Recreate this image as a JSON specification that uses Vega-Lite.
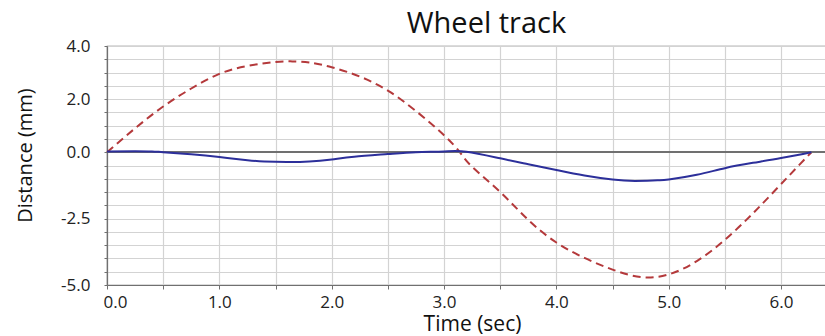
{
  "$schema": "https://vega.github.io/schema/vega-lite/v6.json",
  "width": 719,
  "height": 239,
  "autosize": {"type": "none"},
  "padding": {"left": 107, "top": 46, "right": 0, "bottom": 51},
  "background": "white",
  "config": {
    "font": "Open Sans",
    "view": {"stroke": "#707070", "strokeWidth": 1.2}
  },
  "title": {
    "text": "Wheel track",
    "fontSize": 29,
    "fontWeight": "normal",
    "color": "#111111",
    "anchor": "middle",
    "dx": 20,
    "offset": -2
  },
  "datasets": {
    "tracks": [
      {"t": 0.0, "value": 0.0, "series": "vertical"},
      {"t": 0.25, "value": 0.9, "series": "vertical"},
      {"t": 0.5, "value": 1.72, "series": "vertical"},
      {"t": 0.75, "value": 2.4, "series": "vertical"},
      {"t": 1.0, "value": 2.95, "series": "vertical"},
      {"t": 1.25, "value": 3.25, "series": "vertical"},
      {"t": 1.5, "value": 3.4, "series": "vertical"},
      {"t": 1.65, "value": 3.42, "series": "vertical"},
      {"t": 1.8, "value": 3.38, "series": "vertical"},
      {"t": 2.0, "value": 3.2, "series": "vertical"},
      {"t": 2.25, "value": 2.85, "series": "vertical"},
      {"t": 2.5, "value": 2.32, "series": "vertical"},
      {"t": 2.75, "value": 1.55, "series": "vertical"},
      {"t": 3.0, "value": 0.64, "series": "vertical"},
      {"t": 3.14, "value": 0.0, "series": "vertical"},
      {"t": 3.25, "value": -0.55, "series": "vertical"},
      {"t": 3.5, "value": -1.5, "series": "vertical"},
      {"t": 3.75, "value": -2.55, "series": "vertical"},
      {"t": 4.0, "value": -3.4, "series": "vertical"},
      {"t": 4.25, "value": -3.98, "series": "vertical"},
      {"t": 4.5, "value": -4.42, "series": "vertical"},
      {"t": 4.75, "value": -4.7, "series": "vertical"},
      {"t": 5.0, "value": -4.6, "series": "vertical"},
      {"t": 5.25, "value": -4.1, "series": "vertical"},
      {"t": 5.5, "value": -3.3, "series": "vertical"},
      {"t": 5.75, "value": -2.3, "series": "vertical"},
      {"t": 6.0, "value": -1.2, "series": "vertical"},
      {"t": 6.27, "value": 0.0, "series": "vertical"},
      {"t": 0.0, "value": 0.03, "series": "lateral"},
      {"t": 0.25, "value": 0.04, "series": "lateral"},
      {"t": 0.4, "value": 0.03, "series": "lateral"},
      {"t": 0.5, "value": 0.0, "series": "lateral"},
      {"t": 0.75, "value": -0.08, "series": "lateral"},
      {"t": 1.0, "value": -0.18, "series": "lateral"},
      {"t": 1.25, "value": -0.3, "series": "lateral"},
      {"t": 1.4, "value": -0.35, "series": "lateral"},
      {"t": 1.6, "value": -0.37, "series": "lateral"},
      {"t": 1.8, "value": -0.35, "series": "lateral"},
      {"t": 2.0, "value": -0.27, "series": "lateral"},
      {"t": 2.2, "value": -0.17, "series": "lateral"},
      {"t": 2.5, "value": -0.07, "series": "lateral"},
      {"t": 2.75, "value": 0.0, "series": "lateral"},
      {"t": 3.0, "value": 0.03, "series": "lateral"},
      {"t": 3.2, "value": 0.02, "series": "lateral"},
      {"t": 3.5, "value": -0.23, "series": "lateral"},
      {"t": 3.75, "value": -0.45, "series": "lateral"},
      {"t": 4.0, "value": -0.67, "series": "lateral"},
      {"t": 4.25, "value": -0.88, "series": "lateral"},
      {"t": 4.5, "value": -1.03, "series": "lateral"},
      {"t": 4.7, "value": -1.08, "series": "lateral"},
      {"t": 4.9, "value": -1.06, "series": "lateral"},
      {"t": 5.0, "value": -1.03, "series": "lateral"},
      {"t": 5.25, "value": -0.85, "series": "lateral"},
      {"t": 5.5, "value": -0.6, "series": "lateral"},
      {"t": 5.75, "value": -0.4, "series": "lateral"},
      {"t": 6.0, "value": -0.22, "series": "lateral"},
      {"t": 6.27, "value": 0.0, "series": "lateral"}
    ]
  },
  "data": {"name": "tracks"},
  "resolve": {"axis": {"y": "independent"}},
  "layer": [
    {
      "mark": {"type": "line", "color": "#b4393b", "strokeWidth": 2, "strokeDash": [8, 5], "interpolate": "natural"},
      "transform": [{"filter": "datum.series === 'vertical'"}],
      "encoding": {
        "x": {
          "field": "t",
          "type": "quantitative",
          "scale": {"domain": [0, 6.4], "nice": false, "zero": false},
          "axis": {
            "values": [0, 0.5, 1, 1.5, 2, 2.5, 3, 3.5, 4, 4.5, 5, 5.5, 6],
            "labelExpr": "datum.value % 1 === 0 ? toString(datum.value) + '.0' : ''",
            "labelOverlap": false,
            "grid": true,
            "gridColor": "#d3d3d3",
            "gridWidth": 1.2,
            "domainColor": "#707070",
            "domainWidth": 1.2,
            "tickColor": "#707070",
            "tickSize": 4,
            "labelFontSize": 17,
            "labelColor": "#222222",
            "labelPadding": 5,
            "labelFlush": true,
            "labelFlushOffset": 4,
            "title": "Time (sec)",
            "titleFontSize": 21,
            "titleFontWeight": "normal",
            "titleColor": "#111111",
            "titleX": 365,
            "titleY": 45,
            "titleBaseline": "alphabetic"
          }
        },
        "y": {
          "field": "value",
          "type": "quantitative",
          "scale": {"domain": [-5, 4], "nice": false, "zero": false},
          "axis": {
            "orient": "left",
            "values": [-5, -4.5, -4, -3.5, -3, -2.5, -2, -1.5, -1, -0.5, 0, 0.5, 1, 1.5, 2, 2.5, 3, 3.5, 4],
            "labels": false,
            "title": null,
            "grid": true,
            "gridColor": "#d3d3d3",
            "gridWidth": 1.2,
            "domain": false,
            "tickColor": "#707070",
            "tickSize": 3
          }
        }
      }
    },
    {
      "mark": {"type": "rule", "color": "#707070", "strokeWidth": 1.2},
      "encoding": {"y": {"datum": 0, "type": "quantitative", "axis": null}}
    },
    {
      "mark": {"type": "line", "color": "#2c2f9a", "strokeWidth": 2, "interpolate": "natural"},
      "transform": [{"filter": "datum.series === 'lateral'"}],
      "encoding": {
        "x": {"field": "t", "type": "quantitative"},
        "y": {
          "field": "value",
          "type": "quantitative",
          "axis": {
            "orient": "left",
            "values": [-5, -2.5, 0, 2, 4],
            "format": ".1f",
            "labelExpr": "datum.value === -5 ? '-5.0' : datum.value === -2.5 ? '-2.5' : datum.label",
            "labelOverlap": false,
            "grid": false,
            "domainColor": "#707070",
            "domainWidth": 1.2,
            "ticks": false,
            "labelFontSize": 17,
            "labelColor": "#222222",
            "labelPadding": 17,
            "labelFlush": false,
            "labelBaseline": "middle",
            "title": "Distance (mm)",
            "titleFontSize": 20,
            "titleFontWeight": "normal",
            "titleColor": "#111111",
            "titleX": -82,
            "titleY": 109,
            "titleBaseline": "middle"
          }
        }
      }
    }
  ]
}
